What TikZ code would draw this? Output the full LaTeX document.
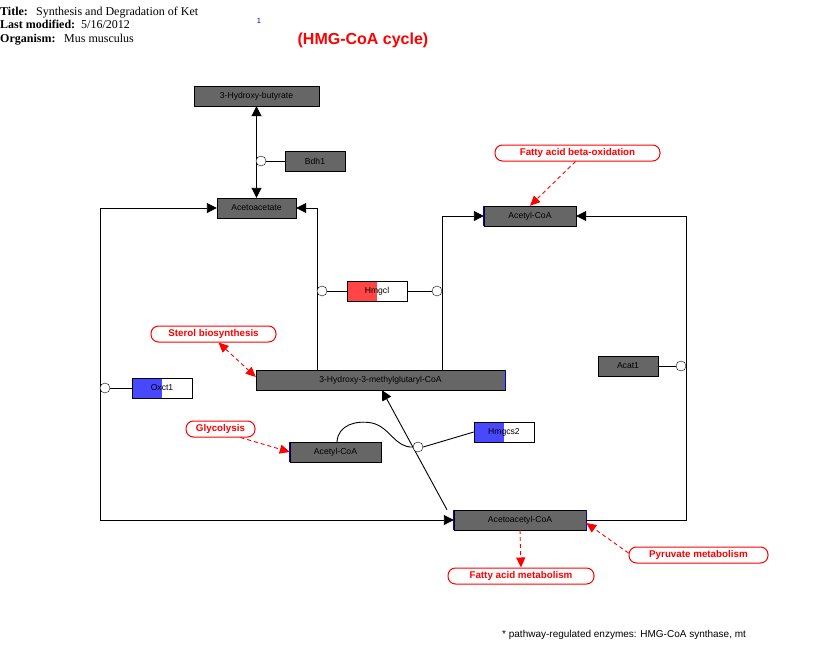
\documentclass[tikz,border=0pt]{standalone}
\usepackage{fontspec}
\setmainfont{Liberation Serif}
\setsansfont{Liberation Sans}
\usetikzlibrary{arrows.meta}
\definecolor{dgray}{HTML}{666666}
\definecolor{lred}{HTML}{FF4545}
\definecolor{lblue}{HTML}{4848FF}
\definecolor{pblue}{HTML}{0000E0}
\tikzset{
  gene/.style={draw=black, fill=dgray, minimum width=60pt, minimum height=20pt, inner sep=0pt, font=\sffamily\fontsize{8.6}{9}\selectfont},
  halfgene/.style={draw=black, fill=white, minimum width=60pt, minimum height=20pt, inner sep=0pt, font=\sffamily\fontsize{8.6}{9}\selectfont,
    path picture={\fill[#1] (path picture bounding box.south west) rectangle ([xshift=30pt]path picture bounding box.north west);}},
  metab/.style={draw=black, fill=dgray, minimum height=20pt, inner sep=0pt, font=\sffamily\fontsize{8.6}{9}\selectfont},
  pwy/.style={draw=red, line width=1pt, fill=white, rounded corners=7.5pt, minimum height=16pt, inner sep=0pt, text=red, font=\sffamily\bfseries\fontsize{9.8}{10}\selectfont},
  anch/.style={circle, draw=black, fill=white, minimum size=10pt, inner sep=0pt},
  conn/.style={draw=black, line width=0.9pt},
  arr/.style={conn, -{Triangle[length=10pt,width=10pt]}},
  barr/.style={conn, {Triangle[length=10pt,width=10pt]}-{Triangle[length=10pt,width=10pt]}},
  rarr/.style={draw=red, line width=0.9pt, dash pattern=on 4pt off 3pt, -{Triangle[length=10pt,width=9pt]}},
  rbarr/.style={draw=red, line width=0.9pt, dash pattern=on 4pt off 3pt, {Triangle[length=10pt,width=9pt]}-{Triangle[length=10pt,width=9pt]}},
  hdr/.style={anchor=base west, inner sep=0pt, font=\fontsize{12}{13}\selectfont}
}
\begin{document}
\begin{tikzpicture}[x=1pt,y=-1pt]
\useasboundingbox (0,0) rectangle (815,670);
% header
\node[hdr] (t1) at (0,15) {\textbf{Title:}};
\node[hdr] (t2) at (36,15) {Synthesis and Degradation of Ket};
\node[hdr] (l1) at (0,28) {\textbf{Last modified:}};
\node[hdr] (l2) at (81,28) {5/16/2012};
\node[hdr] (o1) at (0,42) {\textbf{Organism:}};
\node[hdr] (o2) at (64,42) {Mus musculus};
\node[anchor=base, inner sep=0pt, text=blue!70!black, font=\sffamily\fontsize{7.5}{8}\selectfont] (one) at (259,23) {1};
\node[inner sep=0pt, text=red, font=\sffamily\bfseries\fontsize{16}{18}\selectfont] (ttl) at (363,40) {(HMG-CoA cycle)};
\node[anchor=base west, inner sep=0pt, font=\sffamily\fontsize{10}{11}\selectfont] (foot) at (502,637) {* pathway-regulated enzymes: HMG-CoA synthase, mt};

% metabolites
\node[metab, minimum width=125pt] (hb) at (256.5,96) {3-Hydroxy-butyrate};
\node[metab, minimum width=79pt] (aa) at (256.5,208) {Acetoacetate};
\node[metab, minimum width=92pt] (acoa1) at (530,216) {Acetyl-CoA};
\node[metab, minimum width=249pt] (hmg) at (380.5,380) {3-Hydroxy-3-methylglutaryl-CoA};
\node[metab, minimum width=91pt] (acoa2) at (335.5,452) {Acetyl-CoA};
\node[metab, minimum width=132pt] (aacoa) at (520,520) {Acetoacetyl-CoA};
\draw[pblue, line width=1.2pt] (acoa1.north west) -- (acoa1.south west);
\draw[pblue, line width=1.2pt] (hmg.north east) -- (hmg.south east);
\draw[pblue, line width=1.2pt] (acoa2.north west) -- (acoa2.south west);
\draw[pblue, line width=1.0pt] (aacoa.north west) -- (aacoa.south west);
\draw[pblue, line width=1.0pt] (aacoa.north east) -- (aacoa.south east);

% genes
\node[gene] (bdh1) at (315,161) {Bdh1};
\node[halfgene=lred] (hmgcl) at (377,291) {Hmgcl};
\node[halfgene=lblue] (oxct1) at (162,388) {Oxct1};
\node[halfgene=lblue] (hmgcs2) at (504,432) {Hmgcs2};
\node[gene] (acat1) at (628,366) {Acat1};

% pathways
\node[pwy, minimum width=165pt] (fabo) at (577.5,153) {Fatty acid beta-oxidation};
\node[pwy, minimum width=125pt] (sterol) at (213.5,334) {Sterol biosynthesis};
\node[pwy, minimum width=69pt] (glyc) at (220.5,429) {Glycolysis};
\node[pwy, minimum width=146pt] (fam) at (521,576) {Fatty acid metabolism};
\node[pwy, minimum width=139pt] (pyr) at (698.5,555) {Pyruvate metabolism};

% loop coordinates
\coordinate (lc) at (100,0);
\coordinate (rc) at (686,0);

% interactions
\draw[barr] (hb.south) -- (aa.north);
\node[anch] (c1) at (261,161) {};
\draw[conn] (bdh1.west) -- (c1.east);

\draw[arr] ([xshift=-63.5pt]hmg.north) |- (aa.east);
\draw[arr] ([xshift=61.5pt]hmg.north) |- (acoa1.west);
\node[anch] (c2) at (322,291) {};
\node[anch] (c3) at (437,291) {};
\draw[conn] (hmgcl.west) -- (c2.east);
\draw[conn] (hmgcl.east) -- (c3.west);

\draw[barr] (aa.west) -- (aa.west -| lc) -- (aacoa.west -| lc) -- (aacoa.west);
\node[anch] (c4) at (105,388) {};
\draw[conn] (oxct1.west) -- (c4.east);

\draw[arr] (aacoa.east) -- (aacoa.east -| rc) -- (acoa1.east -| rc) -- (acoa1.east);
\node[anch] (c5) at (681,366) {};
\draw[conn] (acat1.east) -- (c5.west);

\draw[arr] ([xshift=-73pt]aacoa.north) -- ([xshift=1.5pt]hmg.south);
\node[anch] (c6) at (418,447) {};
\draw[conn] (hmgcs2.west) -- (c6.east);
\draw[conn] ([xshift=1.5pt]acoa2.north) .. controls (338,425) and (356,420) .. (372,423)
   .. controls (390,427) and (395,448) .. (c6.west);

% pathway links
\draw[rarr] ([xshift=-2pt]fabo.south) -- (acoa1.north);
\draw[rbarr] ([xshift=5pt]sterol.south) -- ([yshift=3pt]hmg.west);
\draw[rarr] ([xshift=20pt]glyc.south) -- (acoa2.west);
\draw[rarr] (aacoa.south) -- (fam.north);
\draw[rarr] ([yshift=2pt]pyr.west) -- ([yshift=-3pt]aacoa.east);
\end{tikzpicture}
\end{document}
